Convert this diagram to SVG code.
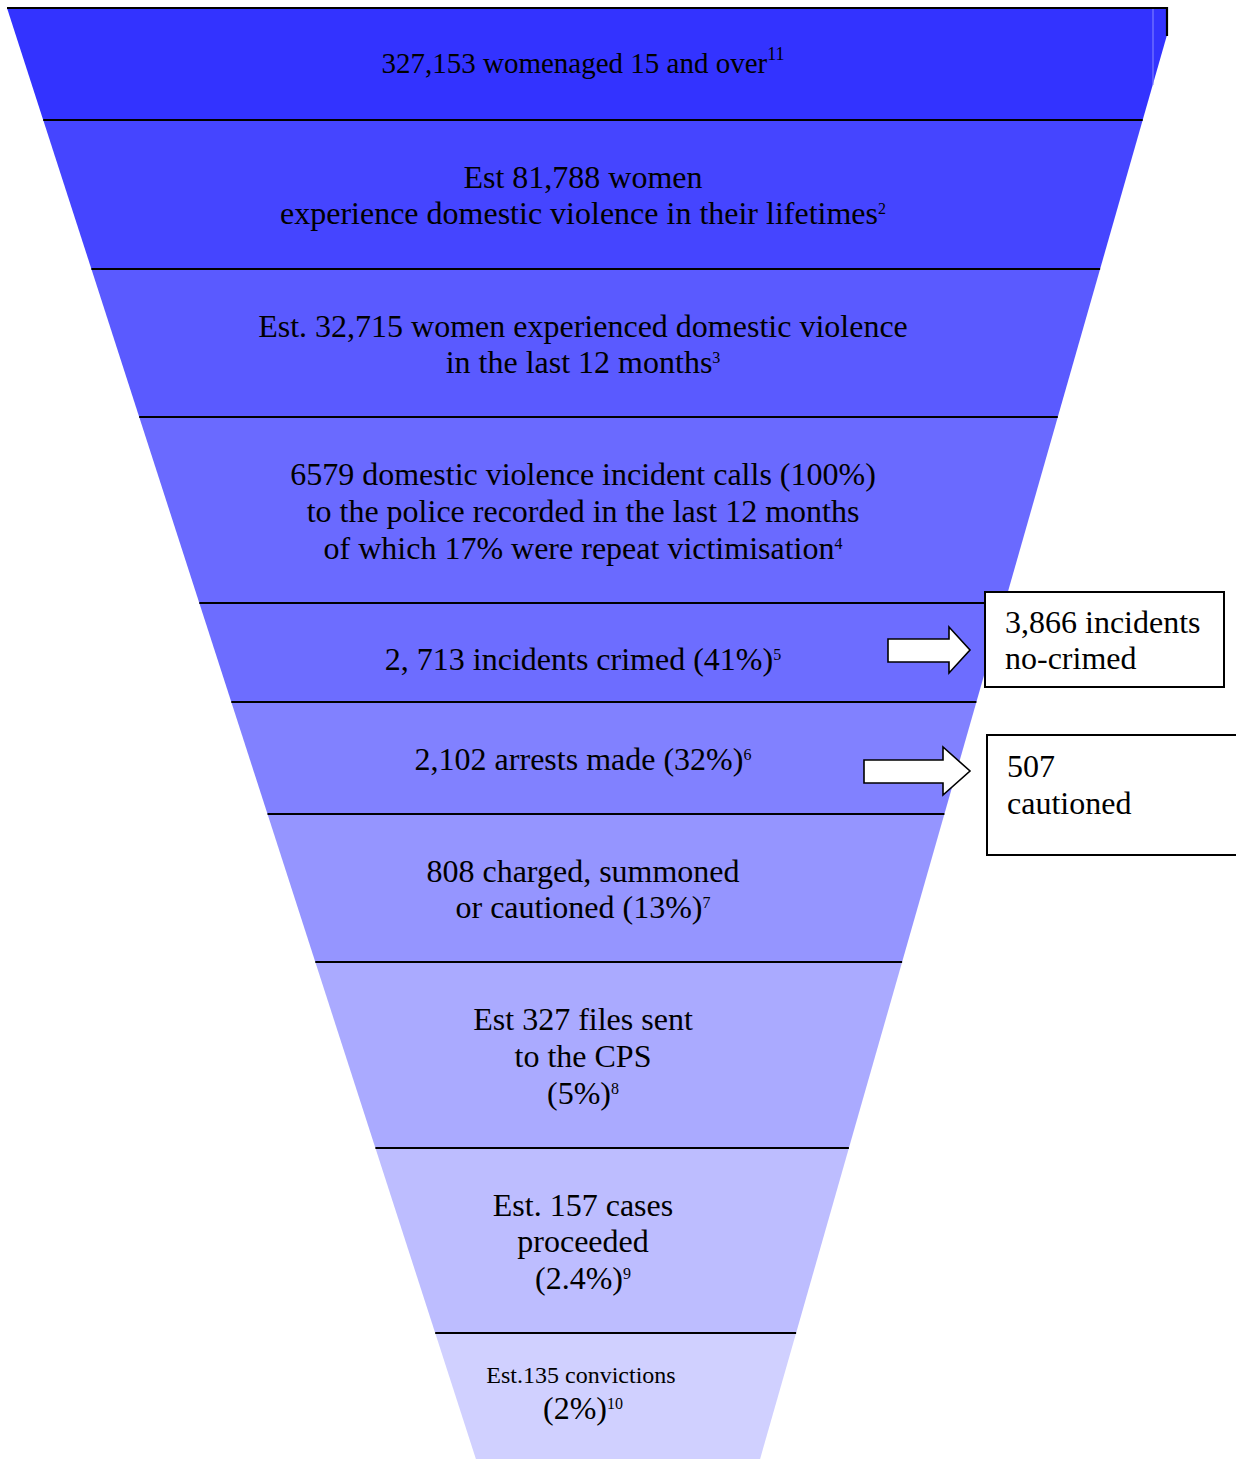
<svg xmlns="http://www.w3.org/2000/svg" width="1236" height="1459" viewBox="0 0 1236 1459">
<style>
.t{font-family:"Liberation Serif","Times New Roman",serif;font-size:32px;fill:#000;text-anchor:middle}
.b{font-family:"Liberation Serif","Times New Roman",serif;font-size:32px;fill:#000}
.s{font-size:16px}
.div{stroke:#000;stroke-width:2.2;fill:none}
.box{fill:#fff;stroke:#000;stroke-width:2}
.arr{fill:#fff;stroke:#000;stroke-width:1.6;stroke-linejoin:miter}
</style>
<rect width="1236" height="1459" fill="#fff"/>
<g id="funnel">
<g id="band1"><polygon points="7,8 1167,8 1167,35 1142.7,120 43.2,120" fill="#3333ff"/>
<text class="t" x="583" y="73" style="font-size:29px">327,153 womenaged 15 and over<tspan style="font-size:18px" dy="-13">11</tspan></text></g>
<g id="band2"><polygon points="43.2,120 1142.7,120 1100.1,269 91.4,269" fill="#4545ff"/>
<text class="t" x="583" y="188">Est 81,788 women</text>
<text class="t" x="583" y="224">experience domestic violence in their lifetimes<tspan class="s" dy="-10">2</tspan></text></g>
<g id="band3"><polygon points="91.4,269 1100.1,269 1057.8,417 139.2,417" fill="#5a5aff"/>
<text class="t" x="583" y="337">Est. 32,715 women experienced domestic violence</text>
<text class="t" x="583" y="373">in the last 12 months<tspan class="s" dy="-10">3</tspan></text></g>
<g id="band4"><polygon points="139.2,417 1057.8,417 1004.7,603 199.3,603" fill="#6a6aff"/>
<text class="t" x="583" y="485">6579 domestic violence incident calls (100%)</text>
<text class="t" x="583" y="522">to the police recorded in the last 12 months</text>
<text class="t" x="583" y="559">of which 17% were repeat victimisation<tspan class="s" dy="-10">4</tspan></text></g>
<g id="band5"><polygon points="199.3,603 1004.7,603 976.4,702 231.3,702" fill="#6d6dff"/>
<text class="t" x="583" y="670">2, 713 incidents crimed (41%)<tspan class="s" dy="-10">5</tspan></text></g>
<g id="band6"><polygon points="231.3,702 976.4,702 944.4,814 267.5,814" fill="#8181ff"/>
<text class="t" x="583" y="770">2,102 arrests made (32%)<tspan class="s" dy="-10">6</tspan></text></g>
<g id="band7"><polygon points="267.5,814 944.4,814 902.1,962 315.3,962" fill="#9595ff"/>
<text class="t" x="583" y="882">808 charged, summoned</text>
<text class="t" x="583" y="918">or cautioned (13%)<tspan class="s" dy="-10">7</tspan></text></g>
<g id="band8"><polygon points="315.3,962 902.1,962 848.9,1148 375.4,1148" fill="#aaaaff"/>
<text class="t" x="583" y="1030">Est 327 files sent</text>
<text class="t" x="583" y="1067">to the CPS</text>
<text class="t" x="583" y="1104">(5%)<tspan class="s" dy="-10">8</tspan></text></g>
<g id="band9"><polygon points="375.4,1148 848.9,1148 796.1,1333 435.2,1333" fill="#bdbdff"/>
<text class="t" x="583" y="1216">Est. 157 cases</text>
<text class="t" x="583" y="1252">proceeded</text>
<text class="t" x="583" y="1289">(2.4%)<tspan class="s" dy="-10">9</tspan></text></g>
<g id="band10"><polygon points="435.2,1333 796.1,1333 760.1,1459 475.9,1459" fill="#d0d0ff"/>
<text class="t" x="581" y="1383" style="font-size:24px">Est.135 convictions</text>
<text class="t" x="583" y="1419">(2%)<tspan class="s" dy="-10">10</tspan></text></g>
<line x1="1153" y1="9" x2="1153" y2="85" stroke="#8888ff" stroke-width="1"/>
</g>
<g id="connectors">
<polyline class="div" points="7,8 1167,8 1167,36"/>
<line class="div" x1="43.2" y1="120" x2="1142.7" y2="120"/>
<line class="div" x1="91.4" y1="269" x2="1100.1" y2="269"/>
<line class="div" x1="139.2" y1="417" x2="1057.8" y2="417"/>
<line class="div" x1="199.3" y1="603" x2="1004.7" y2="603"/>
<line class="div" x1="231.3" y1="702" x2="976.4" y2="702"/>
<line class="div" x1="267.5" y1="814" x2="944.4" y2="814"/>
<line class="div" x1="315.3" y1="962" x2="902.1" y2="962"/>
<line class="div" x1="375.4" y1="1148" x2="848.9" y2="1148"/>
<line class="div" x1="435.2" y1="1333" x2="796.1" y2="1333"/>
<polygon class="arr" points="888,639 949,639 949,627 970,650 949,673 949,662 888,662"/>
<polygon class="arr" points="864,760 943,760 943,747 970,771 943,795 943,783 864,783"/>
</g>
<g id="box1"><rect class="box" x="985" y="592" width="239" height="95"/>
<text class="b" x="1005" y="633">3,866 incidents</text>
<text class="b" x="1005" y="669">no-crimed</text></g>
<g id="box2"><rect class="box" x="987" y="735" width="252" height="120"/>
<text class="b" x="1007" y="777">507</text>
<text class="b" x="1007" y="814">cautioned</text></g>
</svg>
